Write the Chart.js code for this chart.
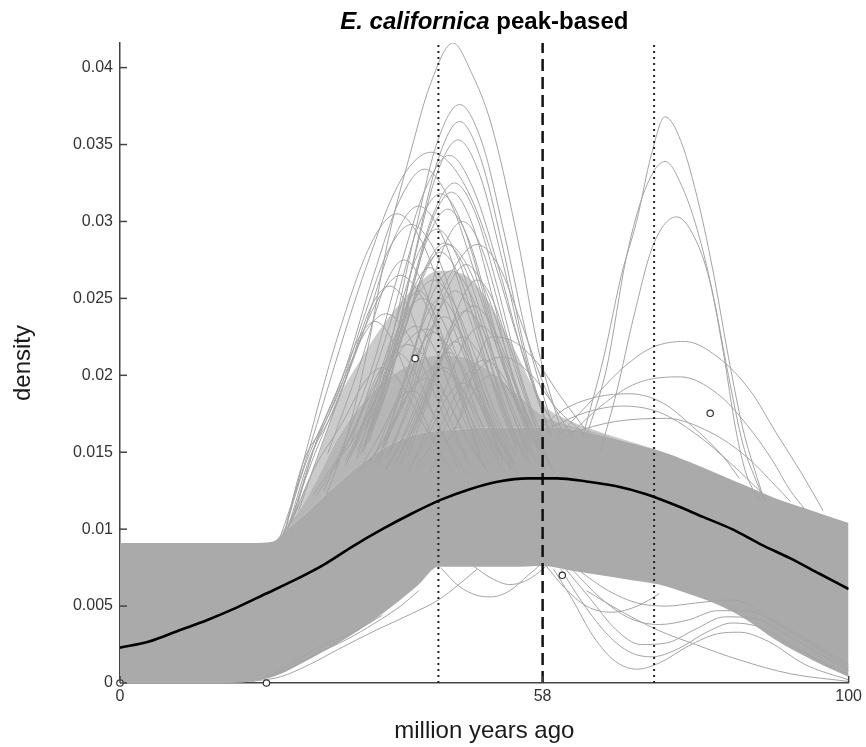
<!DOCTYPE html>
<html>
<head>
<meta charset="utf-8">
<script src="https://cdn.jsdelivr.net/npm/chart.js@4.4.0/dist/chart.umd.min.js"></script>
<style>
  html, body { margin: 0; padding: 0; background: #fff; }
  #wrap { width: 866px; height: 747px; }
</style>
</head>
<body>
<div id="wrap"><canvas id="densityChart" width="866" height="747"></canvas></div>
<script>
// E. californica peak-based density curves

const FONT = '"Liberation Sans", Arial, Helvetica, sans-serif';
const GRAY = '#a4a4a4';

const xTicks = [0, 58, 100];
const yTicks = [0, 0.005, 0.01, 0.015, 0.02, 0.025, 0.03, 0.035, 0.04];
const yMax = 0.0416;

// mean curve (black)
const meanX = [0, 4, 8, 12, 16, 20, 24, 28, 32, 36, 40, 44, 48, 52, 56, 58, 60, 64, 68, 72, 76, 80, 84, 88, 92, 96, 100];
const meanY = [0.0023, 0.0027, 0.0034, 0.0041, 0.0049, 0.0058, 0.0067, 0.0077, 0.0089, 0.0100, 0.0110, 0.0119, 0.0126, 0.0131, 0.0133, 0.0133, 0.0133, 0.0131, 0.0128, 0.0123, 0.0116, 0.0108, 0.0100, 0.0090, 0.0081, 0.0071, 0.0061];

// dense core of the gray curves (lower / upper edge) and the line web above it
const bandX    = [0, 5, 10, 15, 18, 21, 23, 25, 27, 30, 33, 36, 39, 41, 43.7, 47, 50, 54, 58, 62, 66, 70, 74, 78, 82, 86, 90, 95, 100];
const bandLow  = [0, 0, 0, 0, 0.0001, 0.0004, 0.0008, 0.0013, 0.0018, 0.0026, 0.0035, 0.0045, 0.0056, 0.0064, 0.00755, 0.00755, 0.00755, 0.00755, 0.0076, 0.0073, 0.0070, 0.0067, 0.0064, 0.0058, 0.0051, 0.0041, 0.0028, 0.0015, 0.0004];
const bandHigh = [0.0091, 0.0091, 0.0091, 0.0091, 0.0091, 0.0092, 0.0100, 0.0108, 0.0117, 0.0130, 0.0142, 0.0152, 0.0159, 0.0162, 0.0164, 0.0165, 0.0166, 0.0166, 0.0166, 0.0165, 0.0161, 0.0156, 0.0151, 0.0144, 0.0136, 0.0128, 0.0120, 0.0112, 0.0104];
const webInner = [0.0091, 0.0091, 0.0091, 0.0091, 0.0091, 0.0092, 0.0102, 0.0115, 0.0132, 0.0160, 0.0180, 0.0195, 0.0205, 0.0210, 0.0213, 0.0212, 0.0205, 0.0190, 0.0174, 0.0167, 0.0162, 0.0156, 0.0151, 0.0144, 0.0136, 0.0128, 0.0120, 0.0112, 0.0104];
const webOuter = [0.0091, 0.0091, 0.0091, 0.0091, 0.0091, 0.0092, 0.0104, 0.0122, 0.0145, 0.0185, 0.0210, 0.0232, 0.0250, 0.0260, 0.0268, 0.0266, 0.0252, 0.0218, 0.0182, 0.0170, 0.0163, 0.0157, 0.0151, 0.0144, 0.0136, 0.0128, 0.0120, 0.0112, 0.0104];

// individual curves that stick out of the core
const leftPeakCurves = [
    [[28,0.0118],[31,0.0158],[33.9,0.0215],[36.8,0.0288],[40,0.0347],[42.5,0.0388],[45.7,0.0416],[48.2,0.0397],[50.9,0.0364],[54.6,0.0288],[57.5,0.0215],[60.5,0.0165]],
    [[33.7,0.0165],[37.1,0.0220],[40.5,0.0293],[43.5,0.0351],[46.6,0.0376],[49.7,0.0351],[52.7,0.0293],[56.1,0.0220],[59.5,0.0165]],
    [[34.4,0.0163],[37.6,0.0216],[40.8,0.0286],[43.7,0.0341],[46.6,0.0365],[49.5,0.0341],[52.4,0.0286],[55.6,0.0216],[58.8,0.0163]],
    [[33.9,0.0161],[37.2,0.0212],[40.5,0.0278],[43.4,0.0330],[46.4,0.0353],[49.4,0.0330],[52.3,0.0278],[55.6,0.0212],[58.9,0.0161]],
    [[28,0.0125],[31.1,0.0160],[34.8,0.0208],[38.5,0.0271],[41.9,0.0321],[45.2,0.0343],[48.5,0.0321],[51.9,0.0271],[55.6,0.0208],[59.3,0.0160]],
    [[22,0.0095],[24.5,0.0130],[27,0.0168],[29.5,0.0207],[32,0.0245],[34.5,0.0280],[37,0.0312],[39.8,0.0336],[42.7,0.0345],[45.6,0.0336],[48.5,0.0312],[51.5,0.0272],[54.5,0.0225],[57.5,0.0185],[60.5,0.0162]],
    [[24,0.0110],[27,0.0158],[30.9,0.0204],[34.8,0.0265],[38.3,0.0313],[41.8,0.0334],[45.3,0.0313],[48.8,0.0265],[52.7,0.0204],[56.6,0.0158]],
    [[33.7,0.0157],[36.9,0.0201],[40.1,0.0259],[43.0,0.0305],[45.9,0.0325],[48.8,0.0305],[51.7,0.0259],[54.9,0.0201],[58.1,0.0157]],
    [[34.1,0.0156],[37.1,0.0199],[40.1,0.0255],[42.8,0.0300],[45.5,0.0319],[48.2,0.0300],[50.9,0.0255],[53.9,0.0199],[56.9,0.0156]],
    [[23.5,0.0105],[26.7,0.0153],[30.2,0.0191],[33.7,0.0241],[36.8,0.0281],[40.0,0.0298],[43.2,0.0281],[46.3,0.0241],[49.8,0.0191],[53.3,0.0153]],
    [[33.6,0.0154],[36.6,0.0195],[39.6,0.0248],[42.3,0.0290],[45.0,0.0308],[47.7,0.0290],[50.4,0.0248],[53.4,0.0195],[56.4,0.0154]],
    [[33.2,0.0151],[36.2,0.0186],[39.2,0.0233],[41.9,0.0270],[44.6,0.0286],[47.3,0.0270],[50.0,0.0233],[53.0,0.0186],[56.0,0.0151]],
    [[33.4,0.0150],[36.2,0.0184],[39.0,0.0229],[41.5,0.0265],[44.0,0.0280],[46.5,0.0265],[49.0,0.0229],[51.8,0.0184],[54.6,0.0150]],
    [[37.0,0.0149],[39.8,0.0181],[42.5,0.0223],[45.0,0.0257],[47.5,0.0272],[50.0,0.0257],[52.5,0.0223],[55.2,0.0181],[58.0,0.0149]],
    [[23,0.0100],[26.1,0.0147],[29.4,0.0178],[32.6,0.0219],[35.6,0.0251],[38.5,0.0265],[41.4,0.0251],[44.4,0.0219],[47.6,0.0178],[50.9,0.0147]],
    [[31.6,0.0147],[34.6,0.0177],[37.6,0.0217],[40.3,0.0248],[43.0,0.0262],[45.7,0.0248],[48.4,0.0217],[51.4,0.0177],[54.4,0.0147]],
    [[36.5,0.0146],[39.0,0.0174],[41.5,0.0212],[43.8,0.0242],[46.0,0.0255],[48.2,0.0242],[50.5,0.0212],[53.0,0.0174],[55.5,0.0146]],
    [[31.0,0.0145],[33.8,0.0173],[36.5,0.0209],[39.0,0.0238],[41.5,0.0250],[44.0,0.0238],[46.5,0.0209],[49.2,0.0173],[52.0,0.0145]],
    [[38.0,0.0144],[40.8,0.0171],[43.5,0.0205],[46.0,0.0233],[48.5,0.0245],[51.0,0.0233],[53.5,0.0205],[56.2,0.0171],[59.0,0.0144]],
    [[22.5,0.0097],[25.1,0.0143],[28.1,0.0169],[31.1,0.0202],[33.8,0.0229],[36.5,0.0240],[39.2,0.0229],[41.9,0.0202],[44.9,0.0169],[47.9,0.0143]],
    [[35.0,0.0143],[37.5,0.0168],[40.0,0.0201],[42.2,0.0227],[44.5,0.0238],[46.8,0.0227],[49.0,0.0201],[51.5,0.0168],[54.0,0.0143]],
    [[27,0.0122],[29.6,0.0142],[32.9,0.0165],[36.1,0.0195],[39.1,0.0220],[42.0,0.0230],[44.9,0.0220],[47.9,0.0195],[51.1,0.0165],[54.4,0.0142]],
    [[37.5,0.0141],[40.0,0.0163],[42.5,0.0192],[44.8,0.0215],[47.0,0.0225],[49.2,0.0215],[51.5,0.0192],[54.0,0.0163],[56.5,0.0141]],
    [[26.5,0.0122],[29.0,0.0140],[31.8,0.0161],[34.5,0.0189],[37.0,0.0211],[39.5,0.0220],[42.0,0.0211],[44.5,0.0189],[47.2,0.0161],[50.0,0.0140]],
    [[36.4,0.0139],[38.7,0.0159],[41.0,0.0185],[43.0,0.0206],[45.0,0.0215],[47.0,0.0206],[49.0,0.0185],[51.3,0.0159],[53.6,0.0139]],
    [[40.5,0.0139],[43.0,0.0157],[45.5,0.0182],[47.8,0.0202],[50.0,0.0210],[52.2,0.0202],[54.5,0.0182],[57.0,0.0157],[59.5,0.0139]],
    [[33.0,0.0138],[35.8,0.0155],[38.5,0.0179],[41.0,0.0197],[43.5,0.0205],[46.0,0.0197],[48.5,0.0179],[51.2,0.0155],[54.0,0.0138]],
    [[36.0,0.0153],[39.5,0.0188],[42.5,0.0235],[46.0,0.0271],[49.0,0.0285],[52.0,0.0271],[55.0,0.0235],[58.5,0.0190],[62,0.0160]],
    [[28.5,0.0149],[33.0,0.0208],[36.5,0.0260],[39,0.0275],[41.5,0.0260],[45.0,0.0208],[49.5,0.0149]],
    [[33,0.0148],[37,0.0205],[40.25,0.0256],[42.5,0.0270],[44.75,0.0256],[48,0.0205],[52,0.0148]],
    [[35,0.0148],[39.5,0.0204],[43,0.0254],[45.5,0.0268],[48,0.0254],[51.6,0.0204],[56,0.0148]],
    [[39.5,0.0147],[43.5,0.0200],[46.75,0.0248],[49,0.0262],[51.25,0.0248],[54.5,0.0200],[58.5,0.0147]],
    [[23,0.0100],[26.5,0.0146],[31,0.0198],[34.5,0.0245],[37,0.0258],[39.5,0.0245],[43,0.0198],[47.5,0.0146]],
    [[32.5,0.0146],[36,0.0197],[39,0.0242],[41,0.0255],[43,0.0242],[46,0.0197],[49.5,0.0146]],
    [[35.5,0.0145],[39,0.0194],[42,0.0238],[44,0.0250],[46,0.0238],[49,0.0194],[52.5,0.0145]],
    [[38,0.0144],[42,0.0189],[45.25,0.0230],[47.5,0.0242],[49.75,0.0230],[53,0.0189],[57,0.0144]],
    [[22.5,0.0097],[25.5,0.0143],[29.5,0.0186],[32.75,0.0224],[35,0.0235],[37.25,0.0224],[40.5,0.0186],[44.5,0.0143]],
    [[31,0.0142],[35,0.0184],[38.25,0.0221],[40.5,0.0232],[42.75,0.0221],[46,0.0184],[50,0.0142]],
    [[35.4,0.0141],[38.6,0.0182],[41.2,0.0218],[43,0.0228],[44.8,0.0218],[47.4,0.0182],[50.6,0.0141]],
    [[38.4,0.0141],[41.6,0.0178],[44.2,0.0212],[46,0.0222],[47.8,0.0212],[50.4,0.0178],[53.6,0.0141]],
    [[40,0.0142],[44,0.0184],[47.25,0.0221],[49.5,0.0232],[51.75,0.0221],[55,0.0184],[59,0.0142]],
    [[29.5,0.0139],[33,0.0175],[36,0.0206],[38,0.0215],[40,0.0206],[43,0.0175],[46.5,0.0139]],
    [[36.5,0.0138],[39.9,0.0169],[42.6,0.0197],[44.5,0.0205],[46.4,0.0197],[49.1,0.0169],[52.5,0.0138]],
    [[33.5,0.0137],[37,0.0165],[40,0.0191],[42,0.0198],[44,0.0191],[47,0.0165],[50.5,0.0137]],
    [[39.4,0.0136],[42.6,0.0164],[45.2,0.0188],[47,0.0195],[48.8,0.0188],[51.4,0.0164],[54.6,0.0136]],
    [[23.5,0.0104],[26.5,0.0138],[30.5,0.0169],[33.75,0.0197],[36,0.0205],[38.25,0.0197],[41.5,0.0169],[45.5,0.0138]],
    [[42.5,0.0137],[46,0.0166],[49,0.0193],[51,0.0200],[53,0.0193],[56,0.0166],[59.5,0.0137]],
    [[32.4,0.0135],[35.6,0.0161],[38.2,0.0184],[40,0.0190],[41.8,0.0184],[44.4,0.0161],[47.6,0.0135]],
    [[32.6,0.0151],[37.9,0.0213],[42.1,0.0269],[45,0.0285],[47.9,0.0269],[52.1,0.0213],[57.4,0.0151]],
    [[32.1,0.0152],[36.9,0.0219],[40.8,0.0278],[43.5,0.0295],[46.2,0.0278],[50.1,0.0219],[54.9,0.0152]],
    [[36,0.0153],[40.6,0.0221],[44.4,0.0283],[47,0.0300],[49.6,0.0283],[53.4,0.0221],[58,0.0153]],
    [[24.5,0.0112],[27.7,0.0155],[33.3,0.0227],[37.9,0.0292],[41,0.0310],[44.1,0.0292],[48.7,0.0227],[54.3,0.0155]],
    [[22.5,0.0096],[25.5,0.0150],[29.8,0.0224],[34.6,0.0287],[38,0.0305],[41.4,0.0287],[46.3,0.0224],[52.3,0.0154]],
    [[31.7,0.0156],[36.9,0.0231],[41.1,0.0299],[44,0.0318],[46.9,0.0299],[51.2,0.0231],[56.4,0.0156]],
    [[44,0.0160],[48.5,0.0200],[52.5,0.0212],[56.5,0.0200],[60,0.0178],[63.5,0.0163]],
    [[46,0.0165],[51,0.0225],[54,0.0222],[57.3,0.0208],[60.5,0.0186],[64,0.0164]]
];

const rightPeakCurves = [
    [[63.5,0.0160],[66.4,0.0212],[68.8,0.0265],[70.9,0.0300],[72.9,0.0343],[74.8,0.0368],[77,0.0352],[79.5,0.0310],[81.5,0.0265],[83.5,0.0212],[85.5,0.0165],[87,0.0140],[88.5,0.0118]],
    [[64,0.0160],[66.8,0.0205],[69.5,0.0277],[72,0.0320],[74.8,0.0339],[77.2,0.0322],[79.5,0.0290],[81.5,0.0250],[83.5,0.0200],[85.5,0.0155],[87,0.0135],[88.5,0.0118]],
    [[65.9,0.0150],[68.2,0.0190],[70.5,0.0238],[73.2,0.0285],[76.4,0.0303],[78.8,0.0290],[80.9,0.0262],[82.8,0.0215],[84.5,0.0165],[86,0.0135],[88,0.0118]],
    [[60,0.0160],[64,0.0180],[68.6,0.0203],[73,0.0218],[77.5,0.0222],[82,0.0212],[86.5,0.0190],[90,0.0163],[93.7,0.0135],[96.5,0.0112]],
    [[61.5,0.0160],[66,0.0180],[71,0.0195],[76.9,0.0199],[82,0.0188],[86,0.0168],[89.5,0.0145],[92,0.0125],[94,0.0113]],
    [[57.5,0.0165],[61,0.0178],[65.5,0.0186],[70,0.0188],[74.5,0.0182],[78.5,0.0167],[82.8,0.0147],[85,0.0133]],
    [[62,0.0163],[68,0.0170],[75,0.0172],[81,0.0163],[86,0.0147],[90,0.0128],[92,0.0118]],
    [[59,0.0166],[64,0.0176],[69,0.0180],[74,0.0176],[79,0.0162],[84,0.0142],[88,0.0124]]
];

const lowerCurves = [
    [[18,0.0001],[22,0.0004],[26,0.0012],[30,0.0022],[35,0.0034],[40,0.0045],[43.7,0.0054],[46.5,0.0064],[49,0.0074]],
    [[19,0.0002],[23,0.0009],[27,0.0019],[31,0.0028],[35,0.0039],[38.5,0.0050],[41,0.0060]],
    [[20,0.0003],[24,0.0014],[28,0.0025],[32,0.0033],[36,0.0044]],
    [[44,0.0075],[46.5,0.0063],[49,0.0057],[51,0.0056],[53.5,0.0060],[56,0.0070],[57.5,0.0076]],
    [[48.5,0.0076],[51,0.0068],[53.5,0.0064],[55.5,0.0066],[57.5,0.0072],[58.5,0.0076]],
    [[59.5,0.0074],[62,0.0055],[65,0.0030],[68,0.0014],[71,0.0009],[74,0.0013],[78,0.0024],[82,0.0032],[85,0.0033],[89,0.0027],[94,0.0012],[100,0.0002]],
    [[60.5,0.0074],[63.5,0.0052],[67,0.0031],[70,0.0020],[73,0.0017],[76.5,0.0022],[80.5,0.0033],[84,0.0039],[88,0.0036],[93,0.0022],[100,0.0005]],
    [[61,0.0075],[64.5,0.0055],[68,0.0035],[71.5,0.0025],[75,0.0026],[79,0.0035],[83,0.0043],[87,0.0042],[92,0.0030],[100,0.0008]],
    [[62,0.0074],[66,0.0055],[70,0.0042],[74,0.0038],[78,0.0041],[82,0.0047],[86,0.0047],[91,0.0036],[100,0.0010]],
    [[63,0.0073],[67,0.0060],[71,0.0052],[75,0.0050],[79,0.0052],[84,0.0054],[90,0.0040],[100,0.0012]],
    [[64,0.0060],[69,0.0046],[74,0.0034],[79,0.0025],[85,0.0015],[92,0.0006],[100,0.0001]],
    [[58.5,0.0076],[61,0.0062],[64,0.0050],[67.5,0.0046],[71,0.0050],[74,0.0058]]
];

// reference lines and the small open circles
const dottedX = [43.7, 73.3];
const dashedX = [58];
const circleX = [0, 20.1, 40.5, 60.7, 81];
const circleY = [0, 0, 0.0211, 0.0070, 0.01753];

function zipPoints(xs, ys) {
    return xs.map((x, i) => ({ x: x, y: ys[i] }));
}

function pairPoints(list) {
    return list.map(p => ({ x: p[0], y: p[1] }));
}

function curveDataset(points, order) {
    return {
        data: points,
        borderColor: GRAY,
        borderWidth: 1,
        pointRadius: 0,
        fill: false,
        cubicInterpolationMode: 'monotone',
        order: order
    };
}

const datasets = [];

// filled core and web (index 0..3, each fills to the previous one)
datasets.push({ data: zipPoints(bandX, bandLow), borderWidth: 0, pointRadius: 0, fill: false, cubicInterpolationMode: 'monotone', order: 30 });
datasets.push({ data: zipPoints(bandX, bandHigh), borderWidth: 0, pointRadius: 0, fill: '-1', backgroundColor: '#aaaaaa', cubicInterpolationMode: 'monotone', order: 30 });
datasets.push({ data: zipPoints(bandX, webInner), borderWidth: 0, pointRadius: 0, fill: '-1', backgroundColor: '#b6b6b6', cubicInterpolationMode: 'monotone', order: 30 });
datasets.push({ data: zipPoints(bandX, webOuter), borderWidth: 0, pointRadius: 0, fill: '-1', backgroundColor: '#cbcbcb', cubicInterpolationMode: 'monotone', order: 30 });

leftPeakCurves.forEach(c => datasets.push(curveDataset(pairPoints(c), 10)));
rightPeakCurves.forEach(c => datasets.push(curveDataset(pairPoints(c), 10)));
lowerCurves.forEach(c => datasets.push(curveDataset(pairPoints(c), 10)));

dottedX.forEach(x => {
    datasets.push({
        data: [{ x: x, y: 0 }, { x: x, y: yMax }],
        borderColor: '#222',
        borderWidth: 2,
        borderDash: [2, 4],
        pointRadius: 0,
        fill: false,
        order: 4
    });
});

dashedX.forEach(x => {
    datasets.push({
        data: [{ x: x, y: 0 }, { x: x, y: yMax }],
        borderColor: '#111',
        borderWidth: 2.5,
        borderDash: [12, 6],
        pointRadius: 0,
        fill: false,
        order: 3
    });
});

datasets.push({
    data: zipPoints(meanX, meanY),
    borderColor: '#000',
    borderWidth: 2.6,
    pointRadius: 0,
    fill: false,
    cubicInterpolationMode: 'monotone',
    order: 2
});

datasets.push({
    data: zipPoints(circleX, circleY),
    showLine: false,
    pointRadius: 3.2,
    pointBorderWidth: 1.2,
    pointBorderColor: '#333',
    pointBackgroundColor: '#fff',
    clip: 6,
    order: 1
});

// inner ticks, title and axis labels
const decorPlugin = {
    id: 'decor',
    afterDraw(chart) {
        const { ctx, chartArea, scales } = chart;
        ctx.save();
        ctx.strokeStyle = '#444';
        ctx.lineWidth = 1.5;
        scales.y.ticks.forEach(t => {
            const py = scales.y.getPixelForValue(t.value);
            ctx.beginPath();
            ctx.moveTo(chartArea.left, py);
            ctx.lineTo(chartArea.left + 7, py);
            ctx.stroke();
        });
        scales.x.ticks.forEach(t => {
            const px = scales.x.getPixelForValue(t.value);
            ctx.beginPath();
            ctx.moveTo(px, chartArea.bottom);
            ctx.lineTo(px, chartArea.bottom - 7);
            ctx.stroke();
        });

        const cx = (chartArea.left + chartArea.right) / 2;
        const part1 = 'E. californica';
        const part2 = ' peak-based';
        ctx.fillStyle = '#000';
        ctx.textBaseline = 'alphabetic';
        ctx.font = 'italic bold 24px ' + FONT;
        const w1 = ctx.measureText(part1).width;
        ctx.font = 'bold 24px ' + FONT;
        const w2 = ctx.measureText(part2).width;
        const start = cx - (w1 + w2) / 2;
        ctx.textAlign = 'left';
        ctx.font = 'italic bold 24px ' + FONT;
        ctx.fillText(part1, start, 29);
        ctx.font = 'bold 24px ' + FONT;
        ctx.fillText(part2, start + w1, 29);

        ctx.fillStyle = '#1a1a1a';
        ctx.font = '24px ' + FONT;
        ctx.textAlign = 'center';
        ctx.textBaseline = 'middle';
        ctx.fillText('million years ago', cx, chartArea.bottom + 48);

        ctx.translate(23, (chartArea.top + chartArea.bottom) / 2);
        ctx.rotate(-Math.PI / 2);
        ctx.fillText('density', 0, 0);
        ctx.restore();
    }
};

new Chart(document.getElementById('densityChart'), {
    type: 'line',
    data: { datasets: datasets },
    options: {
        responsive: false,
        animation: false,
        events: [],
        layout: { padding: { top: 43, right: 13, left: 0, bottom: 0 } },
        plugins: {
            legend: { display: false },
            tooltip: { enabled: false },
            title: { display: false }
        },
        scales: {
            x: {
                type: 'linear',
                min: 0,
                max: 100,
                afterBuildTicks: scale => { scale.ticks = xTicks.map(v => ({ value: v })); },
                afterFit: scale => { scale.height = 64; },
                ticks: {
                    font: { family: FONT, size: 16 },
                    color: '#333',
                    padding: 4,
                    maxRotation: 0,
                    autoSkip: false,
                    callback: value => String(value)
                },
                grid: { drawOnChartArea: false, drawTicks: false },
                border: { color: '#444', width: 1.5 }
            },
            y: {
                type: 'linear',
                min: 0,
                max: yMax,
                afterBuildTicks: scale => { scale.ticks = yTicks.map(v => ({ value: v })); },
                afterFit: scale => { scale.width = 120; },
                ticks: {
                    font: { family: FONT, size: 16 },
                    color: '#333',
                    padding: 7,
                    autoSkip: false,
                    callback: value => String(+value.toFixed(3))
                },
                grid: { drawOnChartArea: false, drawTicks: false },
                border: { color: '#444', width: 1.5 }
            }
        }
    },
    plugins: [decorPlugin]
});
</script>
</body>
</html>
